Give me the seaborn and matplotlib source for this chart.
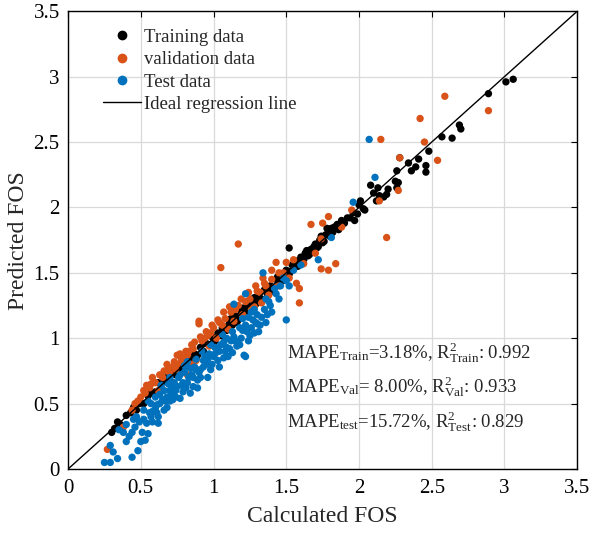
import matplotlib
matplotlib.use("Agg")
import matplotlib.pyplot as plt
from matplotlib.lines import Line2D
import seaborn as sns
import pandas as pd

# ---------------- data ----------------
train_pts = [
    (0.30,0.28),(0.32,0.31),(0.34,0.36),(0.36,0.34),(0.40,0.41),(0.43,0.43),(0.45,0.47),(0.47,0.45),
    (0.49,0.50),(0.52,0.50),(0.55,0.56),(0.57,0.58),(0.60,0.59),(0.62,0.66),(0.64,0.62),(0.66,0.67),
    (0.68,0.70),(0.70,0.68),(0.72,0.74),(0.74,0.72),(0.75,0.78),(0.77,0.76),(0.79,0.80),(0.81,0.79),
    (0.83,0.85),(0.85,0.83),(0.87,0.88),(0.89,0.87),(0.91,0.93),(0.93,0.90),(0.95,0.96),(0.97,0.95),
    (0.99,1.01),(1.01,0.98),(1.03,1.04),(1.05,1.02),(1.07,1.09),(1.09,1.06),(1.11,1.12),(1.13,1.10),
    (1.15,1.17),(1.17,1.14),(1.19,1.20),(1.21,1.18),(1.23,1.25),(1.25,1.22),(1.27,1.28),(1.29,1.26),
    (1.31,1.33),(1.33,1.30),(1.35,1.37),(1.37,1.34),(1.39,1.40),(1.41,1.38),(1.43,1.45),(1.45,1.42),
    (1.47,1.48),(1.49,1.46),(1.50,1.52),(1.52,1.49),(1.54,1.56),(1.55,1.53),(1.57,1.59),(1.58,1.55),
    (1.60,1.62),(1.62,1.60),(1.63,1.65),(1.65,1.63),(1.67,1.68),(1.68,1.66),(1.70,1.72),(1.72,1.70),
    (1.73,1.75),(1.75,1.73),(1.77,1.79),(1.79,1.81),(1.81,1.84),(1.83,1.85),(1.86,1.83),(1.88,1.90),
    (1.90,1.88),(1.92,1.92),(1.94,1.92),(1.96,1.96),(1.97,1.90),(1.99,1.95),(2.00,2.02),(2.01,2.05),
    (2.03,1.99),(2.04,1.98),(2.08,2.17),(2.10,2.11),(2.12,2.05),(2.13,2.15),(2.14,2.09),(2.17,2.08),
    (2.19,2.10),(2.20,2.14),(2.25,2.20),(2.26,2.15),(2.27,2.19),(2.26,2.28),(2.28,2.38),(2.34,2.34),
    (2.36,2.28),(2.39,2.31),(2.41,2.37),(2.46,2.32),(2.46,2.27),(2.48,2.43),(2.57,2.54),(2.64,2.53),
    (2.69,2.63),(2.70,2.60),(2.89,2.87),(3.01,2.96),(3.06,2.98),(1.52,1.69),
    (0.88,0.85),(0.94,0.97),(1.00,0.96),(1.06,1.08),(1.12,1.15),(1.16,1.12),(1.20,1.23),(1.24,1.20),
    (1.28,1.31),(1.32,1.28),(1.36,1.39),(1.40,1.36),(1.44,1.47),(1.48,1.44),(1.53,1.51),(1.56,1.58),
    (1.59,1.57),(1.61,1.58),(1.64,1.67),(1.66,1.64),(1.69,1.70),(1.71,1.69),(1.74,1.78),(1.76,1.74),
    (1.80,1.78),(1.82,1.81),(1.78,1.84),(1.85,1.87),
]
val_pts = [
    (0.27,0.15),(0.38,0.32),(0.44,0.45),(0.48,0.52),(0.53,0.58),(0.54,0.64),(0.60,0.66),(0.58,0.70),
    (0.65,0.70),(0.70,0.73),(0.68,0.80),(0.75,0.87),(0.82,0.87),(0.82,0.72),(0.78,0.82),(0.86,0.92),
    (0.88,0.83),(0.90,1.11),(0.92,0.98),(0.95,1.05),(0.97,0.94),(1.00,1.08),(1.02,1.00),(1.05,1.54),
    (1.04,1.12),(1.08,1.15),(1.10,1.07),(1.12,1.20),(1.14,1.13),(1.17,1.25),(1.20,1.18),(1.22,1.28),
    (1.25,1.30),(1.28,1.24),(1.30,1.36),(1.33,1.27),(1.17,1.72),(1.36,1.40),(1.38,1.33),(1.40,1.45),
    (1.43,1.58),(1.50,1.58),(1.45,1.40),(1.48,1.50),(1.52,1.46),(1.59,1.38),(1.57,1.42),(1.55,1.60),
    (1.62,1.57),(1.67,1.87),(1.75,1.88),(1.79,1.93),(1.74,1.76),(1.74,1.53),(1.79,1.52),(1.84,1.57),
    (1.70,1.65),(1.88,1.85),(1.95,1.98),(2.14,2.05),(2.19,1.77),(2.15,2.52),(2.27,2.13),(2.28,2.38),
    (2.42,2.68),(2.45,2.50),(2.54,2.36),(2.59,2.85),(2.89,2.74),(0.62,0.60),(0.72,0.78),(0.80,0.85),
    (0.85,0.80),(0.96,1.02),(1.06,1.10),(1.26,1.22),(1.35,1.42),(1.42,1.39),(0.50,0.55),(0.56,0.62),
    (0.66,0.75),(0.74,0.76),(0.98,1.04),(1.15,1.22),(1.32,1.35),(0.75,0.80),(0.78,0.84),(0.83,0.90),
    (0.85,0.95),(1.59,1.27),
    (0.46,0.50),(0.52,0.60),(0.57,0.65),(0.63,0.72),(0.69,0.77),(0.73,0.82),(0.77,0.88),(0.81,0.90),
    (0.87,0.97),(0.91,1.01),(0.94,1.00),(0.99,1.10),(1.03,1.14),(1.07,1.20),(1.11,1.24),(1.19,1.30),
    (1.24,1.35),(1.29,1.40),(1.34,1.46),(1.40,1.52),(0.90,1.13),(1.45,1.50),
]
test_pts = [
    (0.25,0.05),(0.29,0.05),(0.34,0.08),(0.44,0.09),(0.48,0.14),(0.29,0.18),(0.31,0.13),(0.40,0.21),
    (0.50,0.21),(0.53,0.22),(0.55,0.27),(0.51,0.28),(0.44,0.28),(0.49,0.36),(0.54,0.35),(0.58,0.36),
    (0.62,0.35),(0.56,0.43),(0.61,0.43),(0.47,0.40),(0.61,0.49),(0.68,0.47),(0.65,0.53),(0.72,0.53),
    (0.77,0.54),(0.79,0.59),(0.84,0.58),(0.86,0.63),(0.75,0.63),(0.70,0.60),(0.82,0.66),(0.89,0.68),
    (0.77,0.72),(0.84,0.77),(0.52,0.45),(0.57,0.50),(0.63,0.57),(0.66,0.60),(0.69,0.65),(0.73,0.66),
    (0.76,0.70),(0.80,0.74),(0.83,0.70),(0.87,0.78),(0.90,0.74),(0.91,0.76),(0.93,0.83),(0.95,0.80),
    (0.97,0.88),(1.00,0.86),(1.03,0.83),(1.02,0.92),(1.05,0.95),(1.08,0.90),(1.10,0.86),(1.12,0.98),
    (1.14,1.01),(1.16,0.94),(1.17,0.96),(1.20,1.06),(1.22,0.86),(1.22,1.10),(1.25,1.02),(1.27,1.14),
    (1.30,1.18),(1.32,1.10),(1.35,1.22),(1.38,1.28),(1.40,1.20),(1.43,1.34),(1.46,1.40),(1.50,1.44),
    (1.55,1.52),(1.60,1.56),(1.34,1.50),(1.22,1.34),(1.14,1.26),(1.96,2.04),(2.07,2.52),(2.11,2.23),
    (1.81,1.77),(1.72,1.60),(0.60,0.55),(0.70,0.70),(0.80,0.79),(0.92,0.90),(0.98,0.95),(1.06,1.03),
    (0.88,0.84),(0.74,0.60),(0.67,0.52),(0.58,0.44),(0.96,0.70),(1.04,0.78),(1.18,1.08),(1.28,1.22),
    (0.64,0.64),(0.72,0.62),(0.85,0.72),(0.94,0.86),(1.01,0.93),(1.09,1.00),(1.13,1.05),(1.24,1.16),
    (0.40,0.34),(0.45,0.38),(0.35,0.30),(0.62,0.40),(0.78,0.64),(1.36,1.30),(1.42,1.38),(1.48,1.46),
    (1.26,1.20),(1.20,1.15),(0.55,0.52),(0.82,0.82),(1.50,1.14),(1.18,0.95),(1.21,0.87),(1.28,1.04),
    (1.30,1.11),
    (0.60,0.46),(0.63,0.50),(0.68,0.55),(0.71,0.57),(0.74,0.55),(0.79,0.66),(0.81,0.62),(0.86,0.70),
    (0.88,0.76),(0.91,0.70),(0.93,0.78),(0.96,0.84),(0.99,0.80),(1.01,0.88),(1.04,0.90),(1.07,0.85),
    (1.07,0.97),(1.11,0.92),(1.13,0.89),(1.15,0.98),(1.19,1.00),(1.23,1.05),(1.26,1.08),(1.29,1.12),
    (1.33,1.16),(1.37,1.18),(1.39,1.25),(1.45,1.30),(1.52,1.40),(0.46,0.32),(0.52,0.38),(0.57,0.40),
    (0.42,0.25),(0.38,0.28),(0.66,0.45),(0.70,0.52),(0.89,0.62),(0.98,0.76),(1.09,0.93),(1.24,0.98),
    (1.31,1.05),(1.36,1.12),
]
series_names = ["Training data", "validation data", "Test data"]
series_colors = ["#000000", "#D95319", "#0072BD"]
ticks = [0, 0.5, 1, 1.5, 2, 2.5, 3, 3.5]
tick_labels = ["0", "0.5", "1", "1.5", "2", "2.5", "3", "3.5"]
ideal_line = [0, 3.5]
stats_lines = [
    r"MAPE$_{\mathrm{Train}}$=3.18%, R$^{2}_{\mathrm{Train}}$: 0.992",
    r"MAPE$_{\mathrm{Val}}$= 8.00%, R$^{2}_{\mathrm{Val}}$: 0.933",
    r"MAPE$_{\mathrm{test}}$=15.72%, R$^{2}_{\mathrm{Test}}$: 0.829",
]

# ---------------- build table ----------------
rows = []
for name, pts in zip(series_names, [train_pts, val_pts, test_pts]):
    for x, y in pts:
        rows.append({"Calculated FOS": x, "Predicted FOS": y, "Set": name})
df = pd.DataFrame(rows)

# ---------------- style ----------------
sns.set_theme(style="white")
plt.rcParams["font.family"] = ["Liberation Serif", "DejaVu Serif"]
plt.rcParams["mathtext.fontset"] = "custom"
plt.rcParams["mathtext.rm"] = "Liberation Serif"
plt.rcParams["mathtext.it"] = "Liberation Serif:italic"
plt.rcParams["mathtext.bf"] = "Liberation Serif:bold"

fig = plt.figure(figsize=(5.92, 5.36), dpi=100)
ax = fig.add_axes([0.115, 0.125, 0.86, 0.854])

sns.scatterplot(data=df, x="Calculated FOS", y="Predicted FOS", hue="Set",
                hue_order=series_names, palette=series_colors, s=28,
                linewidth=0, edgecolor="none", legend=False, ax=ax, zorder=3)
sns.lineplot(x=ideal_line, y=ideal_line, color="black", linewidth=1.0, ax=ax, zorder=4)

ax.set_xlim(0, 3.5)
ax.set_ylim(0, 3.5)
ax.set_xticks(ticks)
ax.set_yticks(ticks)
ax.set_xticklabels(tick_labels)
ax.set_yticklabels(tick_labels)
ax.tick_params(direction="in", length=4, width=0.8, top=True, right=True,
               labelsize=15, colors="black", pad=7)
ax.tick_params(axis="y", pad=6)
ax.grid(True, color="#d9d9d9", linewidth=0.9)
ax.set_axisbelow(True)
for sp in ax.spines.values():
    sp.set_color("black")
    sp.set_linewidth(1.0)
ax.set_xlabel("Calculated FOS", fontsize=17, labelpad=6)
ax.set_ylabel("Predicted FOS", fontsize=17, labelpad=3)

handles = [Line2D([], [], marker="o", linestyle="none", color=c, markersize=6)
           for c in series_colors]
handles.append(Line2D([], [], color="black", linewidth=1.0))
labels = series_names + ["Ideal regression line"]
ax.legend(handles, labels, loc="upper left", bbox_to_anchor=(0.069, 0.962),
          frameon=False, fontsize=13.5, handlelength=2.0, handletextpad=0.15,
          labelspacing=0.28, borderpad=0, borderaxespad=0)

for txt, yv in zip(stats_lines, [0.847, 0.588, 0.32]):
    ax.text(1.505, yv, txt, fontsize=13.5, va="baseline", ha="left", zorder=5)

fig.savefig("out.png", dpi=100)
